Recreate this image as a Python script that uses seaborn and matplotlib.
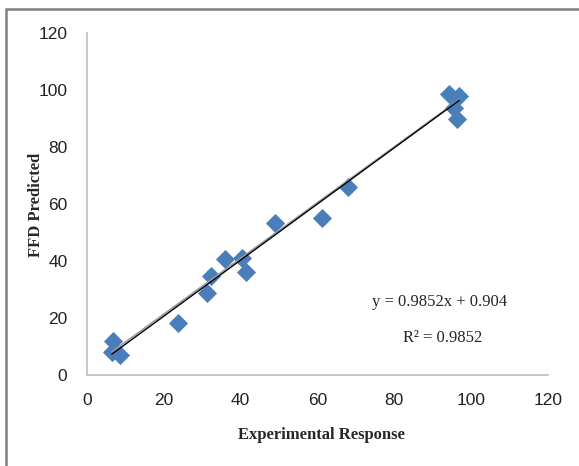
import numpy as np
import pandas as pd
import matplotlib
matplotlib.use("Agg")
import matplotlib.pyplot as plt
import seaborn as sns
from matplotlib.patches import Rectangle

experimental = [6.8, 6.5, 8.6, 23.7, 31.2, 32.3, 35.9, 40.4, 41.4, 49.0, 61.2, 68.0, 94.3, 96.9, 95.6, 96.4]
predicted = [11.9, 8.1, 7.0, 18.2, 28.8, 34.7, 40.7, 41.1, 36.1, 53.3, 55.1, 66.0, 98.6, 97.9, 93.7, 89.8]
fit_slope, fit_intercept = 0.9852, 0.904
alt_slope, alt_intercept = 0.979, 1.74
ticks = [0, 20, 40, 60, 80, 100, 120]
eq_text = "y = 0.9852x + 0.904"
r2_text = "R\u00b2 = 0.9852"

sns.set_style("white")
plt.rcParams['font.family'] = ['Liberation Sans', 'DejaVu Sans']

df = pd.DataFrame({"x": experimental, "y": predicted})

fig = plt.figure(figsize=(5.79, 4.66), dpi=100)
ax = fig.add_axes([0.150, 0.1953, 0.7965, 0.7339])

xs = np.array([min(experimental), max(experimental)])
ax.plot(xs, alt_slope * xs + alt_intercept, color="#9a9a9a", lw=1.2, zorder=3)
ax.plot(xs, fit_slope * xs + fit_intercept, color="black", lw=1.0, zorder=4)

sns.scatterplot(data=df, x="x", y="y", ax=ax, marker="D", s=95,
                color="#4a7ebb", edgecolor="#4a7ebb", linewidth=0, zorder=2)

ax.set_xlim(0, 120)
ax.set_ylim(0, 120)
ax.set_xticks(ticks)
ax.set_yticks(ticks)
ax.set_xticklabels([str(t) for t in ticks])
ax.set_yticklabels([str(t) for t in ticks])
for s in ["top", "right"]:
    ax.spines[s].set_visible(False)
for s in ["left", "bottom"]:
    ax.spines[s].set_color("#bfbfbf")
    ax.spines[s].set_linewidth(1.2)
ax.tick_params(axis="both", direction="out", length=5, width=1, color="#bfbfbf",
               labelsize=12.5, labelcolor="#222222")
ax.tick_params(axis="y", pad=9)
ax.tick_params(axis="x", pad=8)
ax.set_xlabel("")
ax.set_ylabel("")

fig.text(0.555, 0.067, "Experimental Response", ha="center", va="center",
         family=["Liberation Serif"], fontweight="bold", fontsize=12)
fig.text(0.063, 0.56, "FFD Predicted", ha="center", va="center", rotation=90,
         family=["Liberation Serif"], fontweight="bold", fontsize=12)

fig.text(440/579, 1-302/466, eq_text, ha="center", va="center",
         family=["Liberation Serif"], fontsize=12)
fig.text(443/579, 1-338/466, r2_text, ha="center", va="center",
         family=["Liberation Serif"], fontsize=12)

fig.patches.append(Rectangle((6/579, -0.05), 1.2, 1 - 9/466 + 0.05, transform=fig.transFigure,
                             fill=False, edgecolor="#808080", lw=1.8, figure=fig))

fig.savefig("out.png", dpi=100)
